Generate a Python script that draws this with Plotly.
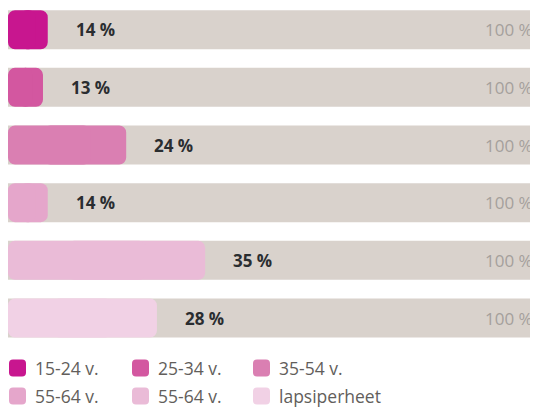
import plotly.graph_objects as go

categories = ["15-24 v.", "25-34 v.", "35-54 v.", "55-64 v.", "55-64 v.", "lapsiperheet"]
label_values = [14, 13, 24, 14, 35, 28]          # printed percentages
bar_lengths = [7.5, 6.6, 22.3, 7.5, 37.2, 28.1]  # drawn bar lengths
total = [100] * 6
colors = ["#c8168f", "#d357a0", "#da7fb2", "#e5a6cb", "#eabbd7", "#f1d1e5"]
bg_color = "#d9d2cc"

FONT = "Open Sans"
W, H = 530, 400          # page body margin of 8px places the figure at (8, 8)
ML, MR, MT, MB = 0, 0, 0, 60
PW, PH = W - ML - MR, H - MT - MB
ypos = list(range(len(categories)))
BW = 0.676
noline = dict(width=0)

fig = go.Figure()
fig.add_trace(go.Bar(x=total, y=ypos, orientation="h",
                     marker=dict(color=bg_color, cornerradius=4, line=noline),
                     width=BW, hoverinfo="skip", showlegend=False))
# coloured bars: two overlapping pieces so both ends get rounded corners
fig.add_trace(go.Bar(x=[0.7 * b for b in bar_lengths], base=[0.3 * b for b in bar_lengths], y=ypos,
                     orientation="h", marker=dict(color=colors, cornerradius=7, line=noline), width=BW,
                     hoverinfo="skip", showlegend=False))
fig.add_trace(go.Bar(x=[-0.7 * b for b in bar_lengths], base=[0.7 * b for b in bar_lengths], y=ypos,
                     orientation="h", marker=dict(color=colors, cornerradius=7, line=noline), width=BW,
                     hoverinfo="skip", showlegend=False))

annotations = []
for i, (v, b) in enumerate(zip(label_values, bar_lengths)):
    annotations.append(dict(x=b, y=i, xref="x", yref="y", text=f"<b>{v} %</b>", showarrow=False,
                            xanchor="left", xshift=26, font=dict(family=FONT, size=17, color="#2a2d30")))
    annotations.append(dict(x=100, y=i, xref="x", yref="y", text="100 %", showarrow=False,
                            xanchor="right", xshift=-3, font=dict(family=FONT, size=17, color="#a5a09c")))

shapes = []
# legend: 3 columns x 2 rows (figure pixel positions)
col_x = [1, 124, 245]
row_y = [360, 388]
r = 4
s = 17
for i, (cat, c) in enumerate(zip(categories, colors)):
    cx = col_x[i % 3]
    cy = row_y[i // 3]
    px = (cx - ML) / PW
    py = (MT + PH - cy) / PH
    path = (f"M {r},{-s/2} L {s-r},{-s/2} Q {s},{-s/2} {s},{-s/2+r} L {s},{s/2-r} Q {s},{s/2} {s-r},{s/2} "
            f"L {r},{s/2} Q 0,{s/2} 0,{s/2-r} L 0,{-s/2+r} Q 0,{-s/2} {r},{-s/2} Z")
    shapes.append(dict(type="path", xref="paper", yref="paper", xsizemode="pixel", ysizemode="pixel",
                       xanchor=px, yanchor=py, path=path, fillcolor=c, line=dict(width=0), layer="above"))
    annotations.append(dict(x=(cx + 25 - ML) / PW, y=py, xref="paper", yref="paper", text=cat,
                            showarrow=False, xanchor="left", yanchor="middle", borderpad=0,
                            font=dict(family=FONT, size=17.5, color="#625e5b")))

top = -21.7 / 57.66
fig.update_layout(
    width=W, height=H, barmode="overlay",
    margin=dict(l=ML, r=MR, t=MT, b=MB),
    paper_bgcolor="white", plot_bgcolor="white",
    xaxis=dict(range=[0, 100], visible=False, fixedrange=True),
    yaxis=dict(range=[top + PH / 57.66, top], visible=False, fixedrange=True),
    annotations=annotations, shapes=shapes, showlegend=False,
)
fig.write_html("out.html")
